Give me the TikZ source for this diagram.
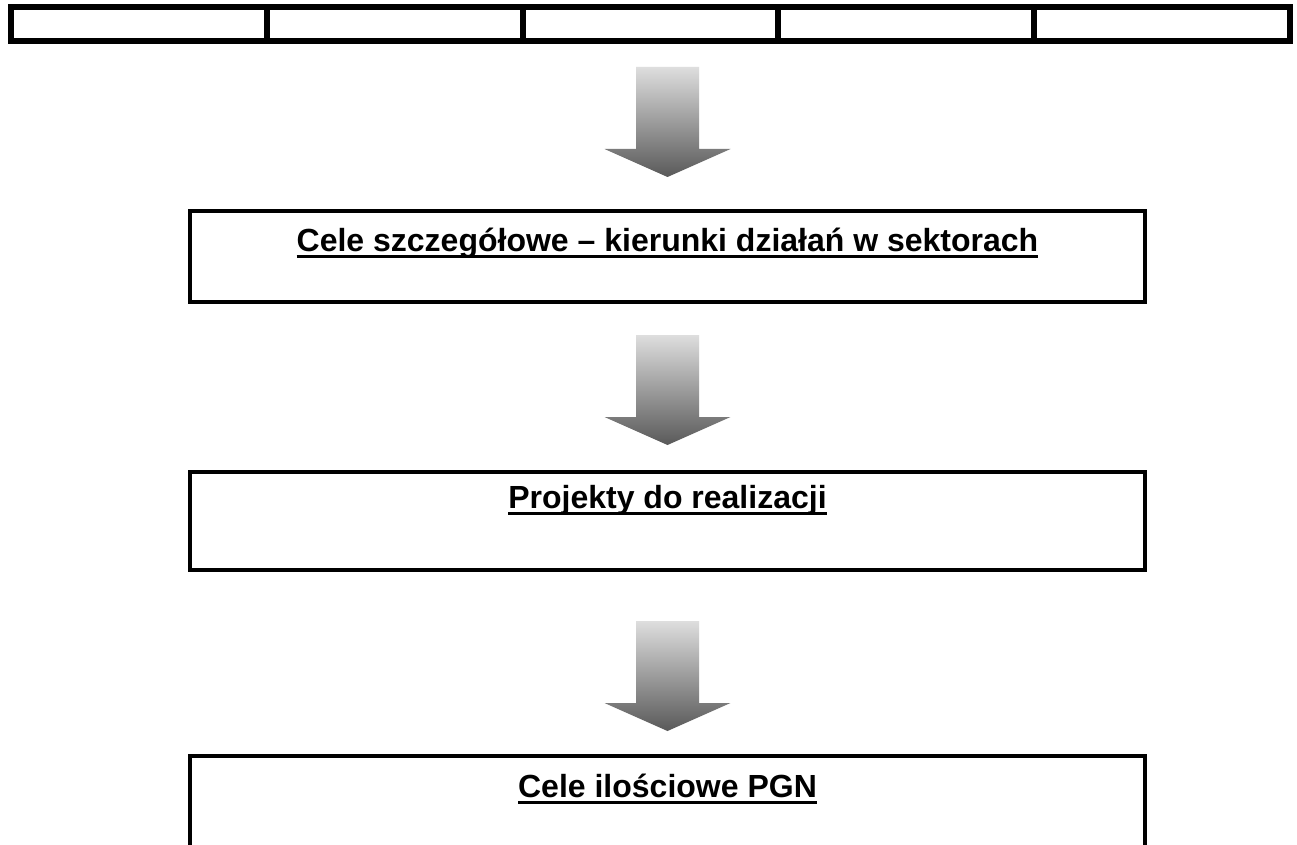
\documentclass[tikz,border=0pt]{standalone}
\usepackage{fontspec}
\setmainfont{Liberation Sans}
\newcommand\ulbox[1]{\setbox0=\hbox{#1}\rlap{\rule[-7pt]{\wd0}{3.5pt}}\box0}
\tikzset{
  cellbox/.style={draw=black, line width=6pt, outer sep=0pt, inner sep=0pt,
    minimum width=255.8pt, minimum height=34pt},
  stagebox/.style={draw=black, line width=4pt, outer sep=0pt, inner sep=0pt,
    minimum width=955pt},
  lbl/.style={inner sep=0pt, outer sep=0pt, anchor=base, font=\fontsize{32pt}{36pt}\selectfont\bfseries},
  blockarrow/.style={top color=black!13, bottom color=black!65, draw=none}
}
\newcommand\downarrowshape[2]{% #1 = x center, #2 = top y
  \shade[blockarrow] (#1-31.5,#2) -- (#1+31.5,#2) -- (#1+31.5,#2+82) -- (#1+63,#2+82)
    -- (#1,#2+110) -- (#1-63,#2+82) -- (#1-31.5,#2+82) -- cycle;}
\begin{document}
\begin{tikzpicture}[x=1pt,y=-1pt]
\useasboundingbox (0,0) rectangle (1297,845);
\fill[white] (0,0) rectangle (1297,845);
% top strip of five cells
\foreach \i in {1,...,5}{
  \node[cellbox] (cell\i) at ({11+255.8*(\i-0.5)},24) {};
}
% arrows
\downarrowshape{667.5}{67}
\downarrowshape{667.5}{335}
\downarrowshape{667.5}{621}
% stage boxes
\node[stagebox, minimum height=91pt] (box1) at (667.5,256.5) {};
\node[lbl] (t1) at ([yshift=-40pt]box1.north) {\ulbox{Cele szczegółowe – kierunki działań w sektorach}};
\node[stagebox, minimum height=98pt] (box2) at (667.5,521) {};
\node[lbl] (t2) at ([yshift=-36pt]box2.north) {\ulbox{Projekty do realizacji}};
\node[stagebox, minimum height=120pt] (box3) at (667.5,816) {};
\node[lbl] (t3) at ([yshift=-41pt]box3.north) {\ulbox{Cele ilościowe PGN}};
\end{tikzpicture}
\end{document}
